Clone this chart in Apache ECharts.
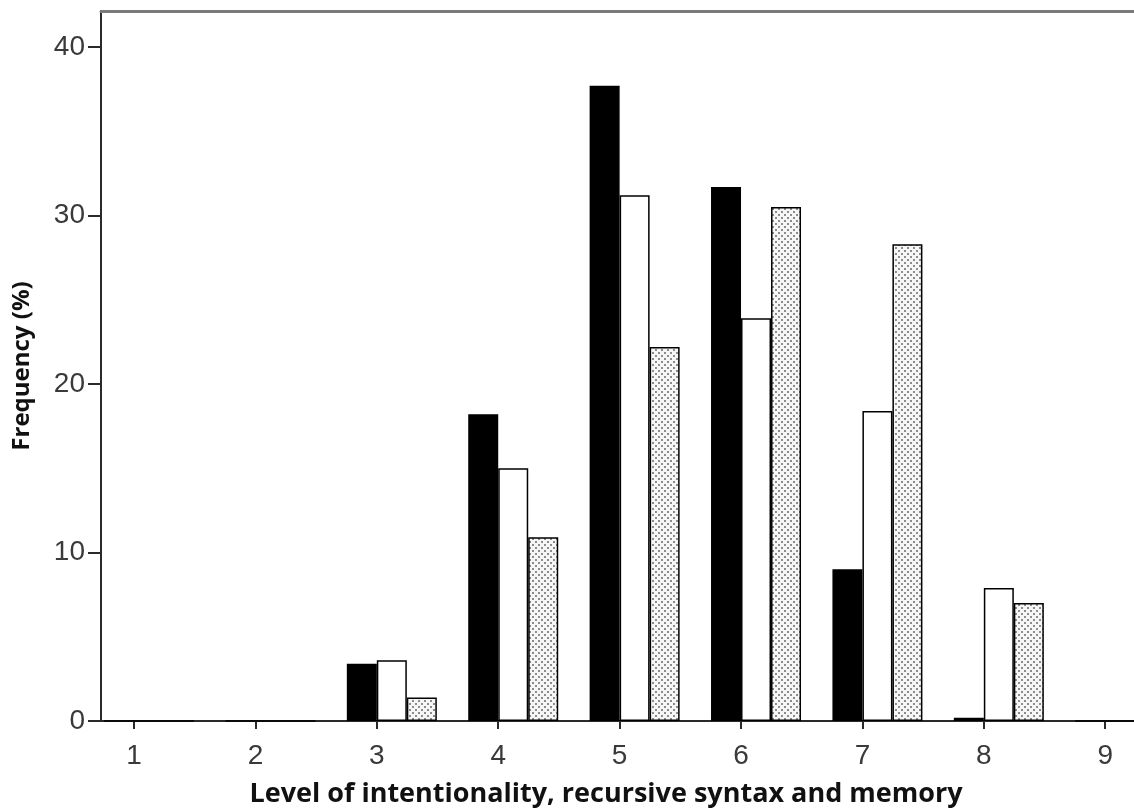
<!DOCTYPE html>
<html>
<head>
<meta charset="utf-8">
<script src="https://cdn.jsdelivr.net/npm/echarts@6/dist/echarts.min.js"></script>
<style>
html,body{margin:0;padding:0;background:#fff;}
#chart{width:1134px;height:809px;}
</style>
</head>
<body>
<div id="chart"></div>
<script>
// ---- data ----
var levels = [1, 2, 3, 4, 5, 6, 7, 8, 9];
var seriesBlack  = [0, 0, 3.4, 18.2, 37.7, 31.7, 9.0, 0.2, 0];
var seriesWhite  = [0, 0, 3.6, 15.0, 31.2, 23.9, 18.4, 7.9, 0];
var seriesDotted = [0, 0, 1.4, 10.9, 22.2, 30.5, 28.3, 7.0, 0];
var yTicks = [0, 10, 20, 30, 40];
var xTitle = 'Level of intentionality, recursive syntax and memory';
var yTitle = 'Frequency (%)';

function pairs(vals) {
  return levels.map(function (l, i) { return [l, vals[i]]; });
}

// dotted fill pattern
var tile = document.createElement('canvas');
tile.width = 6; tile.height = 6;
var ctx = tile.getContext('2d');
ctx.fillStyle = '#f6f6f6';
ctx.fillRect(0, 0, 6, 6);
ctx.fillStyle = '#8c8c8c';
ctx.fillRect(1, 1, 2, 2);
ctx.fillRect(4, 4, 2, 2);

var chart = echarts.init(document.getElementById('chart'), null, {renderer: 'canvas'});
var axisColor = '#2a2a2a';
var labelFont = {fontFamily: 'Liberation Sans', fontSize: 28, color: '#3a3a3a'};

var barBase = {
  type: 'bar',
  barWidth: 30,
  barGap: '0%',
  xAxisIndex: 0,
  yAxisIndex: 0,
  silent: true,
  animation: false
};

chart.setOption({
  animation: false,
  backgroundColor: '#fff',
  grid: {left: 101, right: 0, top: 11, bottom: 88, containLabel: false, outerBoundsMode: 'none'},
  xAxis: [{
    type: 'value',
    min: 0.728,
    max: 9.237,
    splitLine: {show: false},
    axisLine: {show: true, lineStyle: {color: axisColor, width: 2}},
    axisTick: {show: true, inside: false, length: 8, customValues: levels, lineStyle: {color: axisColor, width: 2}},
    axisLabel: Object.assign({margin: 21, customValues: levels}, labelFont)
  }, {
    type: 'value',
    position: 'top',
    min: 0.728,
    max: 9.237,
    splitLine: {show: false},
    axisLine: {show: true, lineStyle: {color: '#7a7a7a', width: 3}},
    axisTick: {show: false},
    axisLabel: {show: false}
  }],
  yAxis: {
    type: 'value',
    min: 0,
    max: 42.14,
    splitLine: {show: false},
    axisLine: {show: true, lineStyle: {color: axisColor, width: 2}},
    axisTick: {show: true, length: 13, customValues: yTicks, lineStyle: {color: axisColor, width: 2}},
    axisLabel: Object.assign({margin: 16, customValues: yTicks}, labelFont),
    name: yTitle,
    nameLocation: 'middle',
    nameGap: 67,
    nameTextStyle: {fontFamily: 'Open Sans', fontWeight: 'bold', fontSize: 24, color: '#111'}
  },
  graphic: [{
    type: 'text',
    x: 606, y: 794,
    style: {text: xTitle, font: 'bold 27px "Open Sans"', fill: '#111', align: 'center', verticalAlign: 'middle'}
  }],
  series: [
    Object.assign({}, barBase, {name: 'spacer', data: [], itemStyle: {color: 'transparent'}}),
    Object.assign({}, barBase, {name: 'black', data: pairs(seriesBlack),
      itemStyle: {color: '#000', borderColor: '#000', borderWidth: 1.5}}),
    Object.assign({}, barBase, {name: 'white', data: pairs(seriesWhite),
      itemStyle: {color: '#fff', borderColor: '#000', borderWidth: 1.5}}),
    Object.assign({}, barBase, {name: 'dotted', data: pairs(seriesDotted),
      itemStyle: {color: {image: tile, repeat: 'repeat'}, borderColor: '#000', borderWidth: 1.5}})
  ]
});
</script>
</body>
</html>
